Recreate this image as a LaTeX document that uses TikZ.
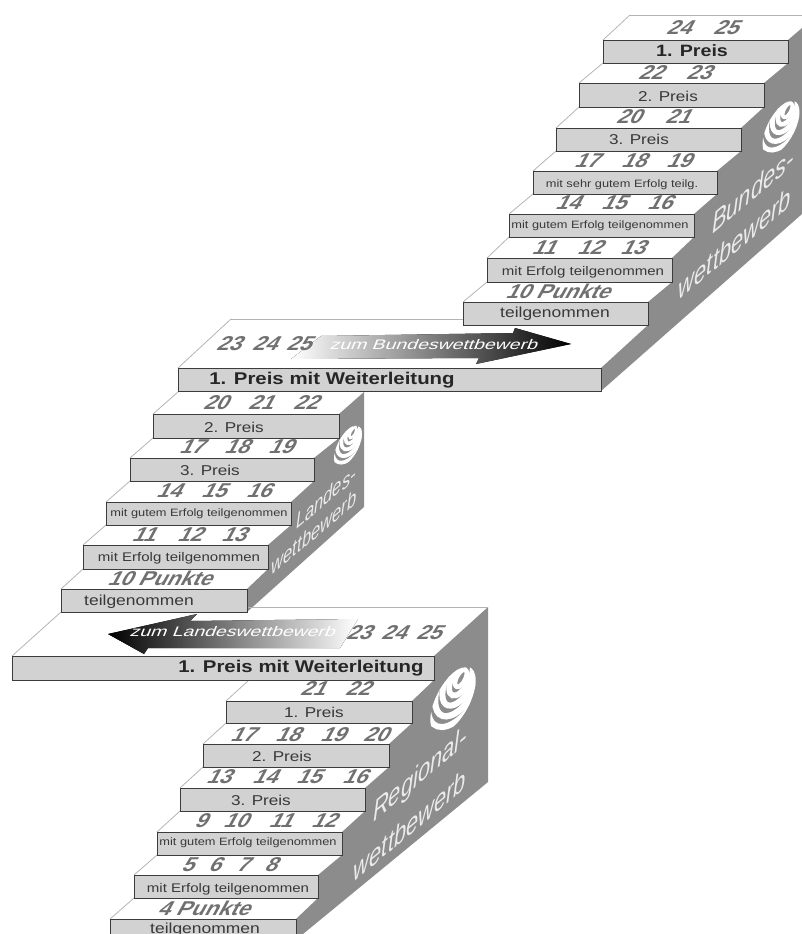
\documentclass[tikz,border=0pt]{standalone}
\usepackage{fontspec}
\newfontfamily\stairfont[FakeStretch=1.2]{Liberation Sans}
\newfontfamily\numfont[FakeSlant=0.55,FakeStretch=1.1]{Liberation Sans}
\newfontfamily\arrowfont[FakeSlant=0.4,FakeStretch=1.4]{Liberation Sans}
\newfontfamily\sidefont{Liberation Sans}
\definecolor{sidegray}{HTML}{8C8C8C}
\definecolor{risergray}{HTML}{D2D2D2}
\definecolor{riseredge}{HTML}{3C3C3C}
\definecolor{treadedge}{HTML}{B4B4B4}
\definecolor{labeltext}{HTML}{383838}
\definecolor{numtext}{HTML}{707070}
\tikzset{
 riser/.style={draw=riseredge,fill=risergray,line width=.7pt},
 tread/.style={draw=treadedge,line width=.6pt},
 sideface/.style={fill=sidegray},
 labwin/.style={text=black!85,font=\stairfont\bfseries\fontsize{12.75}{14}\selectfont},
 labfirst/.style={text=black!85,font=\stairfont\bfseries\fontsize{12.3}{14}\selectfont},
 labprize/.style={text=labeltext,font=\stairfont\fontsize{10.7}{12}\selectfont},
 labplain/.style={text=labeltext,font=\stairfont\fontsize{10.9}{12}\selectfont},
 labmid/.style={text=labeltext,font=\stairfont\fontsize{9.4}{12}\selectfont},
 labsmall/.style={text=labeltext,font=\stairfont\fontsize{8}{10}\selectfont},
 labsehr/.style={text=labeltext,font=\stairfont\fontsize{8}{10}\selectfont},
 numtxt/.style={text=numtext,font=\numfont\bfseries\fontsize{15}{16}\selectfont},
 arrowtxt/.style={text=white,font=\arrowfont\fontsize{10.4}{12}\selectfont},
 sidetxt/.style={text=white!92!black,font=\sidefont\itshape\fontsize{21.5}{24}\selectfont,cm={.765,.644,0,1,(0,0)},transform shape},
 sidesmall/.style={font=\sidefont\itshape\fontsize{16.2}{18}\selectfont},
}
\newcommand\logoglobe[3]{%
 \begin{scope}[shift={(#1,#2)},x={(.755*#3,-.656*#3)},y={(0,.9*#3)}]
 \clip (0,0) circle[radius=1];
 \foreach \r/\w in {.26/.15,.52/.19,.82/.2,1.14/.21,1.46/.2,1.78/.18}{
  \draw[white,line width=\w*#3*.75pt] (.35,-.55) circle[radius=\r];}
 \end{scope}}
\begin{document}
\begin{tikzpicture}[x=.75pt,y=-.75pt]
 \clip (0,0) rectangle (802,934);
 % side faces
 \fill[sideface] (802,28)--(788,40)--(788,63)--(764,83)--(764,107)--(741,128)--(741,151)--(717,171)--(717,194)--(694,214)--(694,237)--(672,258)--(672,282)--(648,302)--(648,325)--(601,368)--(601,391)--(802,214)--cycle;
 \fill[sideface] (364,392)--(339,414)--(339,438)--(314,458)--(314,481)--(291,502)--(291,525)--(268,545)--(268,569)--(247,589)--(247,612)--(364,507)--cycle;
 \fill[sideface] (488,607)--(434,656)--(434,680)--(412,701)--(412,723)--(389,744)--(389,767)--(365,788)--(365,811)--(342,832)--(342,855)--(318,875)--(318,898)--(296,919)--(296,934)--(303,934)--(488,782)--cycle;
 % tread edges
 \foreach \xa/\ya/\xb/\yb in {603/40/630/15,579/83/603/63,556/128/579/107,533/171/556/151,509/214/533/194,487/258/509/237,463/302/487/282,178/368/231/319,153/414/178/392,130/458/153/438,106/502/130/481,83/545/106/525,61/589/83/569,12/656/61/612,226/701/249/680,203/744/226/723,180/788/203/767,157/832/180/811,134/875/157/855,110/919/134/898}{\draw[tread] (\xa,\ya) -- (\xb,\yb);}
 \draw[tread] (630,15) -- (802,15);
 \draw[tread] (231,319) -- (463,319);
 \draw[tread] (247,607) -- (488,607);
 % risers
 \foreach \xl/\xr/\yt/\yb/\xt/\yl/\st/\txt [count=\n] in {
  603/788/40/63/692/51/labfirst/1. Preis,579/764/83/107/668/96/labprize/2. Preis,556/741/128/151/639/139/labprize/3. Preis,
  533/717/171/194/622/185/labsehr/mit sehr gutem Erfolg teilg.,509/694/214/237/600/226/labsmall/mit gutem Erfolg teilgenommen,
  487/672/258/282/583/272/labmid/mit Erfolg teilgenommen,463/648/302/325/555/314/labplain/teilgenommen,
  178/601/368/391/332/380/labwin/1. Preis mit Weiterleitung,153/339/414/438/234/427/labprize/2. Preis,130/314/458/481/210/470/labprize/3. Preis,
  106/291/502/525/199/514/labsmall/mit gutem Erfolg teilgenommen,83/268/545/569/179/558/labmid/mit Erfolg teilgenommen,61/247/589/612/139/602/labplain/teilgenommen,
  12/434/656/680/301/668/labwin/1. Preis mit Weiterleitung,226/412/701/723/314/712/labprize/1. Preis,203/389/744/767/282/756/labprize/2. Preis,180/365/788/811/261/800/labprize/3. Preis,
  157/342/832/855/248/843/labsmall/mit gutem Erfolg teilgenommen,134/318/875/898/228/889/labmid/mit Erfolg teilgenommen,110/296/919/945/205/930/labplain/teilgenommen}{
  \draw[riser] (\xl,\yt) rectangle (\xr,\yb);
  \node[\st,inner sep=0pt] (step\n) at (\xt,\yl) {\txt};}
 % forwarding arrows
 \fill[left color=white,right color=black] (291,359)--(321,336)--(513,333)--(515,328)--(571,344)--(476,364)--(479,358)--cycle;
 \node[arrowtxt,inner sep=0pt] (tobund) at (433,345) {zum Bundeswettbewerb};
 \fill[left color=black,right color=white] (108,634)--(197,614)--(190,621)--(358,619)--(340,648)--(148,648)--(144,654)--cycle;
 \node[arrowtxt,inner sep=0pt] (toland) at (232,632) {zum Landeswettbewerb};
 % numbers on the treads
 \foreach \y/\row in {28/{678/24,725/25},73/{650/22,698/23},117/{628/20,677/21},161/{586/17,633/18,678/19},203/{567/14,613/15,659/16},248/{543/11,589/12,632/13},
  344/{228/23,264/24,298/25},403/{215/20,260/21,305/22},447/{191/17,236/18,280/19},491/{168/14,213/15,258/16},535/{143/11,189/12,233/13},
  633/{358/23,393/24,428/25},689/{312/21,357/22},735/{242/17,287/18,332/19,375/20},777/{218/13,264/14,308/15,354/16},821/{200/9,235/10,280/11,323/12},865/{187/5,214/6,242/7,270/8}}{
  \foreach \x/\t in \row {\node[numtxt,inner sep=0pt] (num\y-\x) at (\x,\y) {\t};}}
 \node[numtxt,inner sep=0pt] (pktbund) at (557,291) {10 Punkte};
 \node[numtxt,inner sep=0pt] (pktland) at (159,578) {10 Punkte};
 \node[numtxt,inner sep=0pt] (pktreg) at (203,908) {4 Punkte};
 % logos
 \logoglobe{781}{128}{24.5}
 \logoglobe{348}{446}{18.5}
 \logoglobe{453}{700}{30}
 % side texts
 \node[sidetxt,inner sep=0pt] (bundA) at (753,190) {Bundes-};
 \node[sidetxt,inner sep=0pt] (bundB) at (735,243) {wettbewerb};
 \node[sidetxt,sidesmall,inner sep=0pt] (landA) at (326,497) {Landes-};
 \node[sidetxt,sidesmall,inner sep=0pt] (landB) at (314,532) {wettbewerb};
 \node[sidetxt,inner sep=0pt] (regA) at (420,776) {Regional-};
 \node[sidetxt,inner sep=0pt] (regB) at (410,825) {wettbewerb};
\end{tikzpicture}
\end{document}
